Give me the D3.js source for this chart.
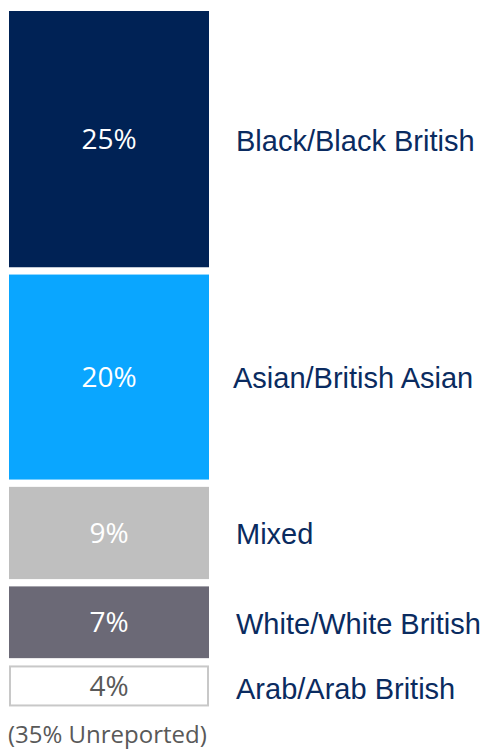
<!DOCTYPE html>
<html lang="en">
	<head>
		<meta charset="UTF-8" />
		<title>Ethnicity breakdown</title>
		<style>
			body { margin: 0; background: #fff; }
		</style>
	</head>
	<body>
		<svg id="svg" width="485" height="750"></svg>
		<script src="https://d3js.org/d3.v7.min.js"></script>
		<script>
			// Data
			const categories = ['Black/Black British', 'Asian/British Asian', 'Mixed', 'White/White British', 'Arab/Arab British'];
			const values = [25, 20, 9, 7, 4];
			const unreported = 35;

			// Styles
			const fills = ['#002255', '#0aa6ff', '#bfbfbf', '#6b6976', '#ffffff'];
			const valueColors = ['#ffffff', '#ffffff', '#ffffff', '#ffffff', '#595959'];

			const top0 = 11;
			const gap = 7.3;
			const barX = 9;
			const barW = 200;

			// Scale: percent -> pixel height
			const hscale = d3.scaleLinear().domain([0, 1]).range([0, 10.25]);

			// stack positions
			let acc = top0;
			const segs = values.map((v, i) => {
				const y = acc;
				const h = hscale(v);
				acc += h + gap;
				return { cat: categories[i], v, y, h, i };
			});

			const svg = d3.select('#svg');
			const g = svg.append('g');

			g.selectAll('rect')
				.data(segs)
				.join('rect')
				.attr('x', (d) => (d.i === 4 ? barX + 1 : barX))
				.attr('y', (d) => (d.i === 4 ? d.y + 1 : d.y))
				.attr('width', (d) => (d.i === 4 ? barW - 2 : barW))
				.attr('height', (d) => (d.i === 4 ? d.h - 2 : d.h))
				.attr('fill', (d) => fills[d.i])
				.attr('stroke', (d) => (d.i === 4 ? '#c8c8c8' : 'none'))
				.attr('stroke-width', 2);

			g.selectAll('text.val')
				.data(segs)
				.join('text')
				.attr('class', 'val')
				.attr('x', barX + barW / 2)
				.attr('y', (d) => d.y + d.h / 2)
				.attr('dy', '0.36em')
				.attr('text-anchor', 'middle')
				.style('font-family', "'Open Sans', sans-serif")
				.attr('font-size', 28)
				.attr('fill', (d) => valueColors[d.i])
				.text((d) => d.v + '%');

			g.selectAll('text.cat')
				.data(segs)
				.join('text')
				.attr('class', 'cat')
				.attr('x', (d) => (d.i === 1 ? 233 : 236))
				.attr('y', (d) => d.y + d.h / 2 + (d.i === 4 ? 3 : 1))
				.attr('dy', '0.36em')
				.style('font-family', "'Liberation Sans', Arial, sans-serif")
				.attr('font-size', 29)
				.attr('fill', '#0a2b60')
				.text((d) => d.cat);

			svg.append('text')
				.attr('x', barX - 1)
				.attr('y', 743)
				.style('font-family', "'Open Sans', sans-serif")
				.attr('font-size', 24)
				.attr('fill', '#595959')
				.text('(' + unreported + '% Unreported)');
		</script>
	</body>
</html>
